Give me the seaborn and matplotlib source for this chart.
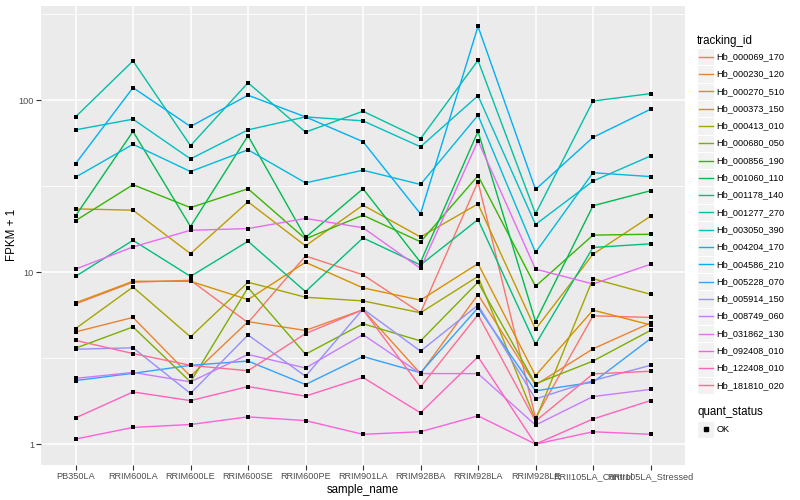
import numpy as np
import pandas as pd
import matplotlib
matplotlib.use("Agg")
import matplotlib.pyplot as plt
from matplotlib.lines import Line2D
from matplotlib.patches import Rectangle
import seaborn as sns

samples = ["PB350LA", "RRIM600LA", "RRIM600LE", "RRIM600SE", "RRIM600PE",
           "RRIM901LA", "RRIM928BA", "RRIM928LA", "RRIM928LE",
           "RRII105LA_Control", "RRII105LA_Stressed"]

tracking_ids = ["Hb_000069_170", "Hb_000230_120", "Hb_000270_510", "Hb_000373_150",
                "Hb_000413_010", "Hb_000680_050", "Hb_000856_190", "Hb_001060_110",
                "Hb_001178_140", "Hb_001277_270", "Hb_003050_390", "Hb_004204_170",
                "Hb_004586_210", "Hb_005228_070", "Hb_005914_150", "Hb_008749_060",
                "Hb_031862_130", "Hb_092408_010", "Hb_122408_010", "Hb_181810_020"]

gg_colors = ["#F8766D", "#EA8331", "#D89000", "#C09B00", "#A3A500", "#7CAE00",
             "#39B600", "#00BB4E", "#00BF7D", "#00C1A3", "#00BFC4", "#00BAE0",
             "#00B0F6", "#35A2FF", "#9590FF", "#C77CFF", "#E76BF3", "#FA62DB",
             "#FF62BC", "#FF6C91"]

# FPKM + 1 values per gene, one per sample
hb_000069_170 = [6.53, 8.73, 8.96, 5.08, 12.4, 9.64, 5.80, 33.5, 1.42, 5.57, 5.45]
hb_000230_120 = [4.49, 5.45, 2.48, 5.15, 4.58, 6.04, 2.57, 7.40, 2.21, 3.58, 5.06]
hb_000270_510 = [6.62, 8.84, 8.84, 6.92, 11.4, 8.09, 6.87, 11.2, 2.50, 6.01, 4.93]
hb_000373_150 = [23.3, 22.9, 12.8, 25.6, 14.2, 24.5, 16.0, 24.9, 4.65, 12.7, 21.1]
hb_000413_010 = [4.69, 8.19, 4.20, 8.73, 7.14, 6.80, 5.80, 9.44, 1.38, 9.15, 7.43]
hb_000680_050 = [3.61, 4.80, 2.30, 8.12, 3.33, 5.01, 3.98, 8.73, 2.24, 3.04, 4.58]
hb_000856_190 = [19.9, 32.2, 23.7, 30.5, 15.6, 21.4, 15.0, 36.3, 8.27, 16.4, 16.6]
hb_001060_110 = [21.2, 65.7, 18.4, 62.0, 15.9, 30.5, 11.4, 65.7, 5.15, 24.3, 29.7]
hb_001178_140 = [9.44, 15.3, 9.44, 15.1, 7.70, 15.8, 11.0, 20.2, 3.80, 13.9, 14.6]
hb_001277_270 = [79.8, 168.8, 54.3, 126.0, 65.1, 86.1, 59.6, 170.0, 21.8, 98.7, 109.0]
hb_003050_390 = [67.1, 77.4, 45.5, 67.1, 79.8, 75.7, 53.5, 106.0, 18.9, 33.8, 47.3]
hb_004204_170 = [35.6, 55.3, 38.4, 51.4, 33.0, 39.1, 32.3, 81.6, 13.0, 37.8, 35.9]
hb_004586_210 = [42.6, 118.0, 70.2, 106.7, 79.8, 57.3, 21.8, 268.0, 30.2, 60.7, 88.4]
hb_005228_070 = [2.34, 2.58, 2.87, 3.04, 2.22, 3.23, 2.60, 6.20, 2.04, 2.29, 4.10]
hb_005914_150 = [3.56, 3.63, 1.97, 4.31, 2.48, 6.10, 3.47, 6.43, 1.83, 2.34, 2.87]
hb_008749_060 = [2.41, 2.61, 2.30, 3.32, 2.77, 4.33, 2.57, 2.57, 1.29, 1.89, 2.08]
hb_031862_130 = [10.4, 14.0, 17.5, 17.9, 20.5, 18.1, 10.5, 58.0, 10.4, 8.53, 11.1]
hb_092408_010 = [1.07, 1.25, 1.30, 1.44, 1.37, 1.14, 1.18, 1.46, 1.00, 1.18, 1.14]
hb_122408_010 = [1.42, 2.01, 1.79, 2.16, 1.90, 2.44, 1.52, 3.22, 1.00, 1.40, 1.79]
hb_181810_020 = [4.01, 3.36, 2.87, 2.67, 4.39, 6.04, 2.15, 5.65, 1.36, 2.56, 2.65]

series = [hb_000069_170, hb_000230_120, hb_000270_510, hb_000373_150, hb_000413_010,
          hb_000680_050, hb_000856_190, hb_001060_110, hb_001178_140, hb_001277_270,
          hb_003050_390, hb_004204_170, hb_004586_210, hb_005228_070, hb_005914_150,
          hb_008749_060, hb_031862_130, hb_092408_010, hb_122408_010, hb_181810_020]

rows = []
for tid, vals in zip(tracking_ids, series):
    for s, v in zip(samples, vals):
        rows.append({"tracking_id": tid, "sample_name": s, "fpkm1": v, "quant_status": "OK"})
df = pd.DataFrame(rows)
df["xpos"] = df["sample_name"].map({s: i for i, s in enumerate(samples)})

FONT = "Liberation Sans"
plt.rcParams["font.family"] = [FONT, "DejaVu Sans"]

W, H = 800, 500
fig = plt.figure(figsize=(8, 5), dpi=100)
fig.patch.set_facecolor("white")

L_, R_, T_, B_ = 41, 685, 5.5, 465
ax = fig.add_axes([L_ / W, 1 - B_ / H, (R_ - L_) / W, (B_ - T_) / H])
ax.set_facecolor("#EBEBEB")

palette = dict(zip(tracking_ids, gg_colors))
sns.lineplot(data=df, x="xpos", y="fpkm1", hue="tracking_id", palette=palette,
             hue_order=tracking_ids, units="tracking_id", estimator=None,
             linewidth=1.0, legend=False, ax=ax, sort=True, zorder=3)
sns.scatterplot(data=df, x="xpos", y="fpkm1", color="black", marker="s", s=7,
                linewidth=0, legend=False, ax=ax, zorder=4)

ax.set_yscale("log")
lo = np.log10(df["fpkm1"].min())
hi = np.log10(df["fpkm1"].max())
pad = (hi - lo) * 0.05
ax.set_ylim(10 ** (lo - pad), 10 ** (hi + pad))
ax.set_xlim(-0.6, len(samples) - 1 + 0.6)

# grid
for v in [1, 10, 100]:
    ax.axhline(v, color="white", lw=1.1, zorder=1)
for v in [10 ** 0.5, 10 ** 1.5, 10 ** 2.5]:
    ax.axhline(v, color="white", lw=0.55, zorder=1)
for i in range(len(samples)):
    ax.axvline(i, color="white", lw=1.1, zorder=1)

ax.set_xticks(range(len(samples)))
ax.set_xticklabels(samples)
ax.set_yticks([1, 10, 100])
ax.set_yticklabels(["1", "10", "100"])
ax.yaxis.set_minor_locator(matplotlib.ticker.NullLocator())
ax.tick_params(axis="both", which="major", length=3.5, width=0.8, color="#333333",
               labelcolor="#4D4D4D", labelsize=6.6, pad=1.5)
for sp in ax.spines.values():
    sp.set_visible(False)
ax.set_xlabel("sample_name", fontsize=8.3, color="black", labelpad=2)
ax.set_ylabel("FPKM + 1", fontsize=8.3, color="black")
ax.yaxis.set_label_coords(-(L_ - 18) / (R_ - L_), 0.5)

# legend drawn in ggplot style
def fx(x):
    return x / W

def fy(y):
    return 1 - y / H

key = 17.3
kx0 = 697
fig.text(fx(kx0), fy(40.7), "tracking_id", fontsize=8.3, va="center", ha="left")
for i, (tid, col) in enumerate(zip(tracking_ids, gg_colors)):
    yc = 56.7 + key * i
    fig.add_artist(Rectangle((fx(kx0), fy(yc + key / 2)), key / W, key / H,
                             transform=fig.transFigure, facecolor="#F2F2F2",
                             edgecolor="white", lw=0.8))
    fig.add_artist(Line2D([fx(kx0 + 1.7), fx(kx0 + key - 1.7)], [fy(yc), fy(yc)],
                          transform=fig.transFigure, color=col, lw=1.0))
    fig.text(fx(716.5), fy(yc), tid, fontsize=6.6, va="center", ha="left")

fig.text(fx(kx0), fy(412.3), "quant_status", fontsize=8.3, va="center", ha="left")
yc = 429.3
fig.add_artist(Rectangle((fx(kx0), fy(yc + key / 2)), key / W, key / H,
                         transform=fig.transFigure, facecolor="#F2F2F2",
                         edgecolor="white", lw=0.8))
fig.add_artist(Line2D([fx(kx0 + key / 2)], [fy(yc)], transform=fig.transFigure,
                      color="black", marker="s", markersize=2.6, lw=0))
fig.text(fx(716.5), fy(yc), "OK", fontsize=6.6, va="center", ha="left")

fig.savefig("out.png", dpi=100)
